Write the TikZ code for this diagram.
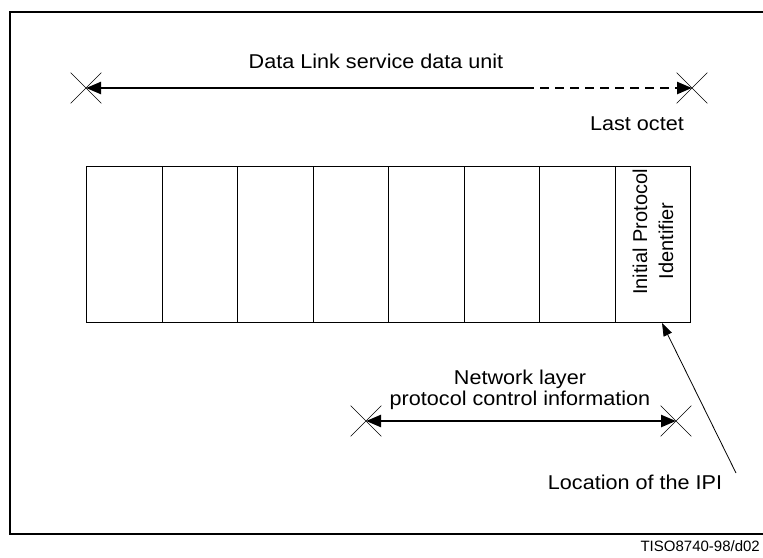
\documentclass[tikz,border=0pt]{standalone}
\usepackage{fontspec}
\setmainfont{Liberation Sans}
\newfontfamily\widesans[FakeStretch=1.08]{Liberation Sans}
\usetikzlibrary{arrows.meta,shapes.misc}
\begin{document}
\begin{tikzpicture}[x=1pt,y=-1pt,
  lbl/.style={font=\widesans\fontsize{20}{23}\selectfont, inner sep=0pt},
  rlbl/.style={font=\fontsize{20}{23}\selectfont, inner sep=0pt, rotate=90},
  cell/.style={draw, line width=1.2pt, minimum width=75.5pt, minimum height=156pt, inner sep=0pt, anchor=north west},
  xmark/.style={draw, cross out, line width=0.6pt, minimum size=30pt, inner sep=0pt},
  dimarrow/.style={line width=2.4pt, -{Triangle[length=15pt,width=12pt]}},
  ptr/.style={line width=0.8pt, -{Triangle[length=13pt,width=9pt]}}
]
\useasboundingbox (0,0) rectangle (763,557);
% frame (open on the right)
\draw[line width=1.3pt] (763,12) -- (10,12) -- (10,534) -- (763,534);

% octet cells
\foreach \i in {1,...,8} {
  \node[cell] (c\i) at ({86+(\i-1)*75.5},166) {};
}
\node[rlbl] (ipi1) at (640,232) {Initial Protocol};
\node[rlbl] (ipi2) at (666,241) {Identifier};

% top dimension
\node[lbl] (title) at (376,61) {Data Link service data unit};
\node[xmark] (tl) at (86,88) {};
\node[xmark] (tr) at (692,88) {};
\coordinate (dstart) at (525,88);
\draw[dimarrow] (dstart) -- (tl.center);
\draw[dimarrow, dash pattern=on 9pt off 6pt] (dstart) -- (tr.center);
\node[lbl] (last) at (637,124) {Last octet};

% bottom dimension
\node[lbl, align=center, font=\widesans\fontsize{20}{21}\selectfont] (npci) at (520,390) {Network layer\\protocol control information};
\node[xmark] (bl) at (366,421) {};
\node[xmark] (br) at (676,421) {};
\draw[dimarrow, {Triangle[length=15pt,width=12pt]}-{Triangle[length=15pt,width=12pt]}] (bl.center) -- (br.center);

% IPI pointer
\node[lbl] (loc) at (635,482) {Location of the IPI};
\coordinate (ptrstart) at (736,473);
\coordinate (ptrend) at (662,323);
\draw[ptr] (ptrstart) -- (ptrend);

\node[font=\fontsize{15}{17}\selectfont, inner sep=0pt, anchor=east] (ref) at (760,546) {TISO8740-98/d02};
\end{tikzpicture}
\end{document}
